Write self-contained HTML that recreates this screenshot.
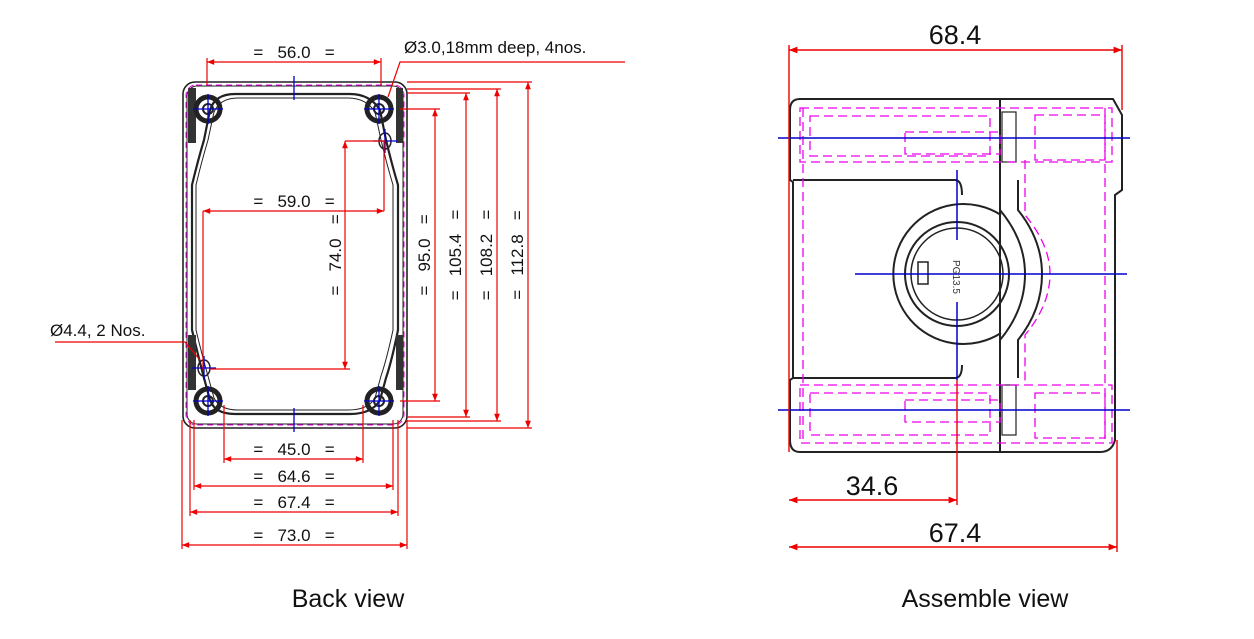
<!DOCTYPE html>
<html><head><meta charset="utf-8"><style>
html,body{margin:0;padding:0;background:#fff;width:1254px;height:639px;overflow:hidden}
svg{display:block}
text{font-family:"Liberation Sans",Arial,sans-serif;white-space:pre}
</style></head><body>
<svg width="1254" height="639" viewBox="0 0 1254 639" xmlns="http://www.w3.org/2000/svg" xml:space="preserve">
<defs>
<marker id="a" viewBox="0 0 10 10" refX="10" refY="5" markerWidth="8" markerHeight="6" orient="auto-start-reverse"><path d="M0,1 L10,5 L0,9 z" fill="#e00"/></marker>
</defs>
<g fill="none" stroke="#222" stroke-width="1.6">
<rect x="183" y="82" width="224" height="346" rx="12"/>
<rect x="187" y="86" width="216" height="338" rx="10" stroke-width="1"/>
<path d="M235,94 H350 Q370,94 380,110 L386,140 Q392,165 398,185 V330 Q392,360 386,378 L380,400 Q372,414 350,414 H235 Q215,414 210,400 L204,378 Q198,355 192,330 V185 Q198,160 204,140 L210,110 Q215,94 235,94 Z" stroke-width="2.2"/>
<path d="M238,98 H348 Q366,98 375,112 L381,140 Q387,165 393,185 V330 Q387,358 381,376 L375,398 Q368,410 348,410 H238 Q220,410 214,398 L208,376 Q202,355 196,330 V185 Q202,160 208,140 L214,112 Q220,98 238,98 Z" stroke-width="1"/>
</g>
<g fill="#333">
<rect x="188" y="88" width="8" height="55"/><rect x="396" y="88" width="7" height="55"/>
<rect x="188" y="335" width="8" height="55"/><rect x="396" y="335" width="7" height="55"/>
</g>
<g fill="none" stroke="#222">
<circle cx="208" cy="109" r="12" stroke-width="5"/><circle cx="208" cy="109" r="5" stroke-width="2"/>
<circle cx="379" cy="109" r="12" stroke-width="5"/><circle cx="379" cy="109" r="5" stroke-width="2"/>
<circle cx="208" cy="401" r="12" stroke-width="5"/><circle cx="208" cy="401" r="5" stroke-width="2"/>
<circle cx="379" cy="401" r="12" stroke-width="5"/><circle cx="379" cy="401" r="5" stroke-width="2"/>
<ellipse cx="385" cy="141" rx="6" ry="8" stroke-width="1.5"/>
<ellipse cx="204" cy="368" rx="6" ry="8" stroke-width="1.5"/>
</g>
<rect x="186" y="85" width="218" height="340" rx="10" fill="none" stroke="#e0e" stroke-dasharray="6,4" stroke-width="1"/>
<g stroke="#00c" stroke-width="1.3">
<path d="M193,109H223M208,94V124M364,109H394M379,94V124M193,401H223M208,386V416M364,401H394M379,386V416M373,141H397M385,129V153M192,368H216M204,356V380M294,76V100M294,408V432"/>
</g>
<g stroke="#e00" stroke-width="1.2" fill="none">
<path d="M207,58V85M381,58V85"/>
<path d="M207,62H381" marker-start="url(#a)" marker-end="url(#a)"/>
<path d="M203,211H384" marker-start="url(#a)" marker-end="url(#a)"/>
<path d="M203,211V370M384,141V211"/>
<path d="M345,141V369" marker-start="url(#a)" marker-end="url(#a)"/>
<path d="M345,141H385M210,369H350"/>
<path d="M400,109H440M400,401H440M407,93H470M407,417H470M407,89H501M407,421H501M407,82H532M407,428H532"/>
<path d="M435,109V401" marker-start="url(#a)" marker-end="url(#a)"/>
<path d="M466,93V417" marker-start="url(#a)" marker-end="url(#a)"/>
<path d="M497,89V421" marker-start="url(#a)" marker-end="url(#a)"/>
<path d="M528,82V428" marker-start="url(#a)" marker-end="url(#a)"/>
<path d="M224,405V463M363,405V463M194,420V490M393,420V490M190,420V516M398,420V516M182,420V549M407,420V549"/>
<path d="M224,459H363" marker-start="url(#a)" marker-end="url(#a)"/>
<path d="M194,486H393" marker-start="url(#a)" marker-end="url(#a)"/>
<path d="M190,512H398" marker-start="url(#a)" marker-end="url(#a)"/>
<path d="M182,545H407" marker-start="url(#a)" marker-end="url(#a)"/>
<path d="M625,62H400L388,97"/>
<path d="M55,342H185L200,360"/>
</g>
<g font-size="17" fill="#111" text-anchor="middle">
<text x="294" y="58">=   56.0   =</text>
<text x="294" y="207">=   59.0   =</text>
<text x="294" y="455">=   45.0   =</text>
<text x="294" y="482">=   64.6   =</text>
<text x="294" y="508">=   67.4   =</text>
<text x="294" y="541">=   73.0   =</text>
<text transform="translate(341,255) rotate(-90)">=   74.0   =</text>
<text transform="translate(430,255) rotate(-90)">=   95.0   =</text>
<text transform="translate(461,255) rotate(-90)">=   105.4   =</text>
<text transform="translate(492,255) rotate(-90)">=   108.2   =</text>
<text transform="translate(523,255) rotate(-90)">=   112.8   =</text>
<text x="404" y="53" text-anchor="start">Ø3.0,18mm deep, 4nos.</text>
<text x="50" y="336" text-anchor="start">Ø4.4, 2 Nos.</text>
</g>
<g fill="none" stroke="#222" stroke-width="2">
<path d="M800,99 H1000 V452 H800 Q790,452 790,440 V380 L793,378 V182 L790,180 V110 Q790,99 800,99 Z"/>
<path d="M1000,99 H1113 L1122,115 V190 L1115,195 V440 Q1112,452 1100,452 H1000"/>
<path d="M793,180 H955 Q962,180 962,195 M793,378 H955 Q962,378 962,365"/>
<path d="M1000,180 V210 Q1025,240 1025,274 Q1025,310 1000,340 V378"/>
<path d="M1018,180 V210 Q1042,240 1042,274 Q1042,310 1018,340 V378"/>
<path d="M1001,215 A70,70 0 1 0 1001,333"/>
<circle cx="957" cy="274" r="52"/><circle cx="957" cy="274" r="46" stroke-width="1.5"/>
<rect x="918" y="262" width="10" height="22" stroke-width="1.5"/>
<rect x="1002" y="112" width="14" height="50" stroke-width="1.2"/>
<rect x="1002" y="385" width="14" height="50" stroke-width="1.2"/>
</g>
<g fill="none" stroke="#e0e" stroke-width="1.3" stroke-dasharray="9,5">
<rect x="800" y="108" width="312" height="54"/>
<rect x="810" y="116" width="180" height="40"/>
<rect x="905" y="132" width="95" height="22"/>
<rect x="1035" y="115" width="70" height="45"/>
<rect x="800" y="385" width="312" height="58"/>
<rect x="810" y="393" width="180" height="42"/>
<rect x="905" y="400" width="95" height="22"/>
<rect x="1035" y="393" width="70" height="45"/>
<path d="M803,108V443M1105,108V443M1025,160V215Q1050,245 1050,274Q1050,305 1025,335V385"/>
</g>
<g stroke="#00c" stroke-width="1.5">
<path d="M778,138H1130M778,410H1130M855,274H1127M957,170V240M957,302V380"/>
</g>
<g stroke="#e00" stroke-width="1.4" fill="none">
<path d="M789,45V452M1122,45V110M1117,440V552M957,380V505"/>
<path d="M789,50H1122" marker-start="url(#a)" marker-end="url(#a)"/>
<path d="M789,500H957" marker-start="url(#a)" marker-end="url(#a)"/>
<path d="M789,547H1117" marker-start="url(#a)" marker-end="url(#a)"/>
</g>
<text transform="translate(953,260) rotate(90)" font-size="10" fill="#333">PG13.5</text>
<g font-size="27" fill="#111" text-anchor="middle">
<text x="955" y="44">68.4</text>
<text x="872" y="495">34.6</text>
<text x="955" y="542">67.4</text>
</g>
<g font-size="25" fill="#111" text-anchor="middle">
<text x="348" y="607">Back view</text>
<text x="985" y="607">Assemble view</text>
</g>
</svg>
</body></html>
